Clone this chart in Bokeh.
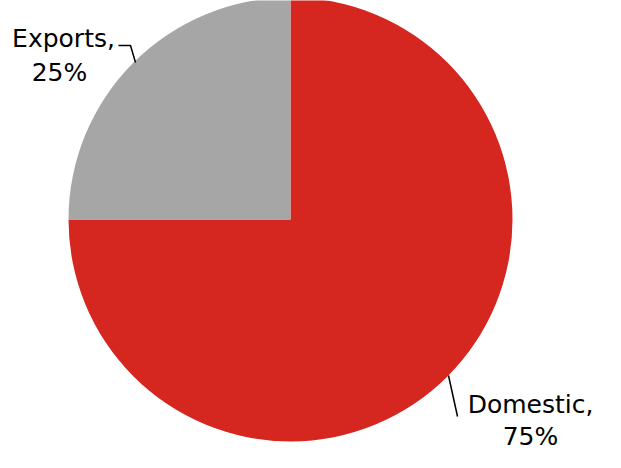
import math
from bokeh.plotting import figure
from bokeh.models import Range1d
from bokeh.core.properties import value
from bokeh.embed import file_html
from bokeh.resources import INLINE

categories = ["Domestic", "Exports"]
shares = [75, 25]
colors = ["#D5261F", "#A6A6A6"]

W, H = 605, 452
p = figure(width=W, height=H, output_backend="svg", toolbar_location=None,
           x_range=Range1d(0, W), y_range=Range1d(0, H), min_border=0)
p.axis.visible = False
p.grid.visible = False
p.outline_line_color = None
p.background_fill_color = "white"

cx, cy, r = 290, 233, 222
total = sum(shares)
start = math.pi / 2
starts, ends = [], []
for s in shares:
    starts.append(start)
    start = start - 2 * math.pi * s / total
    ends.append(start)
p.wedge(x=[cx] * len(shares), y=[cy] * len(shares), radius=r,
        start_angle=starts, end_angle=ends,
        direction="clock", fill_color=colors, line_color=None)

font = value("DejaVu Sans")
fs = "25px"
# Exports label
p.text(x=[63, 59], y=[414, 380], text=[f"{categories[1]},", f"{shares[1]}%"],
       text_font=font, text_font_size=fs, text_align="center", text_baseline="middle",
       text_color="black")
p.line(x=[118, 130, 135], y=[407, 407, 390], line_color="black", line_width=1.5)
# Domestic label
p.text(x=[530, 530], y=[48, 16], text=[f"{categories[0]},", f"{shares[0]}%"],
       text_font=font, text_font_size=fs, text_align="center", text_baseline="middle",
       text_color="black")
p.line(x=[448, 457], y=[77, 36], line_color="black", line_width=1.5)

open("out.html", "w").write(file_html(p, INLINE))
